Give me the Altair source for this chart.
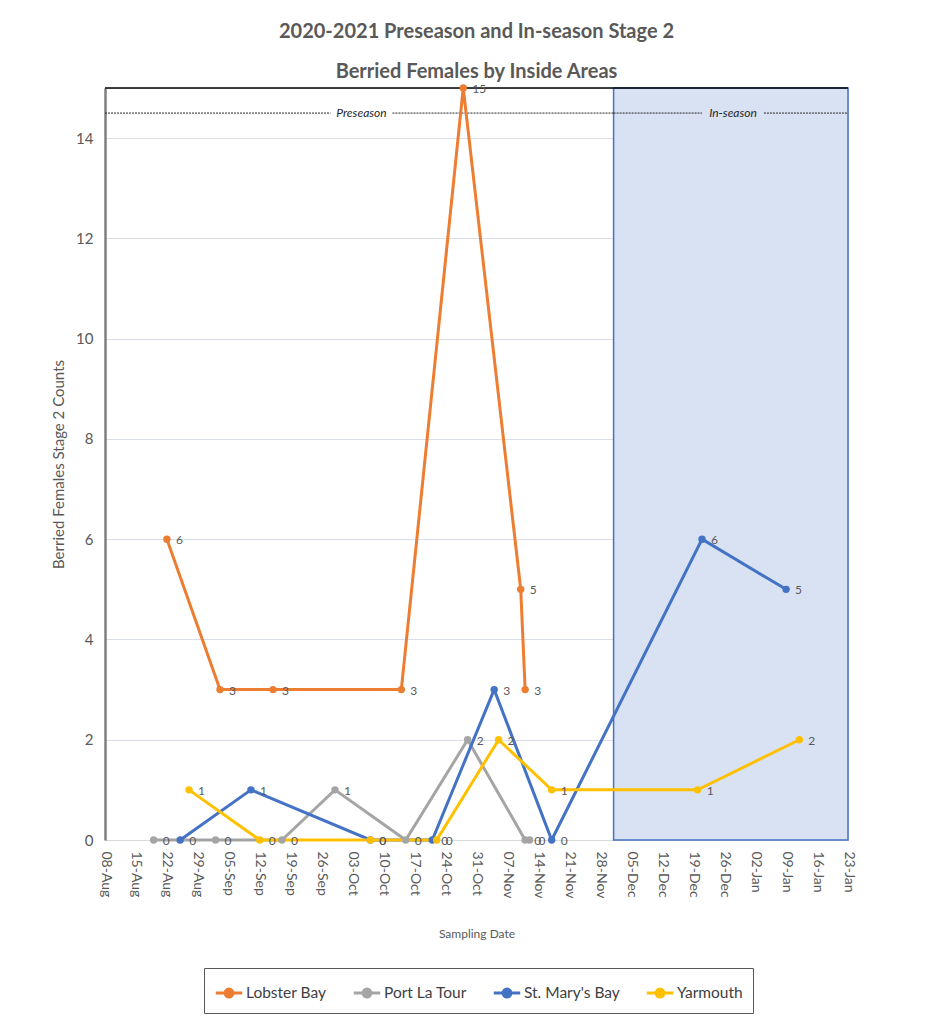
import altair as alt
import pandas as pd

# ---- data ----
lobster_dates = ["2020-08-22", "2020-09-03", "2020-09-15", "2020-10-14", "2020-10-28", "2020-11-10", "2020-11-11"]
lobster_vals = [6, 3, 3, 3, 15, 5, 3]

portla_dates = ["2020-08-19", "2020-09-02", "2020-09-17", "2020-09-29", "2020-10-15", "2020-10-29", "2020-11-11", "2020-11-12"]
portla_vals = [0, 0, 0, 1, 0, 2, 0, 0]

stmary_dates = ["2020-08-25", "2020-09-10", "2020-10-07", "2020-10-21", "2020-11-04", "2020-11-17", "2020-12-21", "2021-01-09"]
stmary_vals = [0, 1, 0, 0, 3, 0, 6, 5]

yarmouth_dates = ["2020-08-27", "2020-09-12", "2020-10-07", "2020-10-22", "2020-11-05", "2020-11-17", "2020-12-20", "2021-01-12"]
yarmouth_vals = [1, 0, 0, 0, 2, 1, 1, 2]

series_names = ["Lobster Bay", "Port La Tour", "St. Mary's Bay", "Yarmouth"]
series_colors = ["#ED7D31", "#A5A5A5", "#4472C4", "#FFC000"]

tick_dates = ["2020-08-08", "2020-08-15", "2020-08-22", "2020-08-29", "2020-09-05", "2020-09-12",
              "2020-09-19", "2020-09-26", "2020-10-03", "2020-10-10", "2020-10-17", "2020-10-24",
              "2020-10-31", "2020-11-07", "2020-11-14", "2020-11-21", "2020-11-28", "2020-12-05",
              "2020-12-12", "2020-12-19", "2020-12-26", "2021-01-02", "2021-01-09", "2021-01-16",
              "2021-01-23"]
y_ticks = [0, 2, 4, 6, 8, 10, 12, 14]

x_start, x_end = "2020-08-08", "2021-01-23"
inseason_start = "2020-12-01"
y_max = 15
season_line_y = 14.5
season_label_names = ["Preseason", "In-season"]
season_label_dates = ["2020-10-05", "2020-12-28"]
# dashed line segments, broken where the labels sit
seg_starts = ["2020-08-08", "2020-10-12", "2020-12-01", "2021-01-04"]
seg_ends = ["2020-09-28", "2020-12-01", "2020-12-21", "2021-01-23"]

rows = []
for name, ds, vs in zip(series_names,
                        [lobster_dates, portla_dates, stmary_dates, yarmouth_dates],
                        [lobster_vals, portla_vals, stmary_vals, yarmouth_vals]):
    for d, v in zip(ds, vs):
        rows.append({"date": d, "count": v, "area": name})
df = pd.DataFrame(rows)

FONT = "Lato"
TXT = "#595959"

xscale = alt.Scale(type="utc", domain=[alt.DateTime(year=2020, month=8, date=8, utc=True),
                                        alt.DateTime(year=2021, month=1, date=23, utc=True)])
yscale = alt.Scale(domain=[0, y_max], nice=False)

tick_values = [alt.DateTime(year=int(t[:4]), month=int(t[5:7]), date=int(t[8:]), utc=True) for t in tick_dates]

x_axis = alt.Axis(values=tick_values, format="%d-%b", labelAngle=90, labelAlign="left",
                  labelBaseline="middle", labelFontSize=14, labelColor=TXT, labelFont=FONT,
                  labelOverlap=False, labelFlush=False, labelSeparation=0,
                  title="Sampling Date", titleFontSize=12, titleFontWeight="normal", titleColor=TXT,
                  titleFont=FONT, titlePadding=31, grid=False, domainColor="#D9D9D9", ticks=False,
                  labelPadding=11)
y_axis = alt.Axis(values=y_ticks, labelFontSize=15, labelColor=TXT, labelFont=FONT,
                  title="Berried Females Stage 2 Counts", titleFontSize=15, titleFontWeight="normal",
                  titleColor=TXT, titleFont=FONT, titlePadding=9, grid=True, gridColor="#D9DEEA",
                  domainColor="#7F7F7F", domainWidth=2.5, ticks=False, labelPadding=12)

legend_symbol = "M-1,0H1M-0.3,0A0.3,0.3 0 1,1 0.3,0A0.3,0.3 0 1,1 -0.3,0Z"
color = alt.Color("area:N", scale=alt.Scale(domain=series_names, range=series_colors),
                  legend=alt.Legend(title=None, orient="none", direction="horizontal",
                                    legendX=99, legendY=880, strokeColor="#595959",
                                    padding=10, labelFontSize=15.5, labelFont=FONT, labelColor="#404040",
                                    columnPadding=20, symbolType=legend_symbol,
                                    symbolStrokeWidth=3, symbolSize=700, labelOffset=2))

bg_df = pd.DataFrame({"start": [inseason_start], "end": [x_end], "y0": [0], "y1": [y_max]})
shade = alt.Chart(bg_df).mark_rect(fill="#D9E2F3", stroke="#4472C4", strokeWidth=1.5).encode(
    x=alt.X("start:T", scale=xscale, axis=x_axis),
    x2="end:T",
    y=alt.Y("y0:Q", scale=yscale, axis=y_axis),
    y2="y1:Q",
)

top_df = pd.DataFrame({"y": [y_max]})
top_rule = alt.Chart(top_df).mark_rule(color="black", strokeWidth=1.5).encode(y=alt.Y("y:Q", scale=yscale))

seg_df = pd.DataFrame({"s": seg_starts, "e": seg_ends, "y": [season_line_y] * len(seg_starts)})
dashed = alt.Chart(seg_df).mark_rule(color="#262626", strokeDash=[2, 1], strokeWidth=1).encode(
    x=alt.X("s:T", scale=xscale, axis=x_axis), x2="e:T", y=alt.Y("y:Q", scale=yscale, axis=y_axis))

lab_df = pd.DataFrame({"d": season_label_dates, "t": season_label_names, "y": [season_line_y] * 2})
season_text = alt.Chart(lab_df).mark_text(fontSize=12, fontStyle="italic", font=FONT, color="#262626").encode(
    x=alt.X("d:T", scale=xscale, axis=x_axis), y=alt.Y("y:Q", scale=yscale, axis=y_axis), text="t:N")

base = alt.Chart(df).encode(
    x=alt.X("date:T", scale=xscale, axis=x_axis),
    y=alt.Y("count:Q", scale=yscale, axis=y_axis),
    color=color,
)
lines = base.mark_line(strokeWidth=3)
points = base.mark_point(filled=True, size=55, opacity=1)
labels = alt.Chart(df).mark_text(align="left", dx=9, dy=1, fontSize=12, font=FONT, color=TXT).encode(
    x=alt.X("date:T", scale=xscale, axis=x_axis), y=alt.Y("count:Q", scale=yscale, axis=y_axis),
    text="count:Q")

chart = alt.layer(shade, top_rule, dashed, season_text, lines, points, labels).properties(
    width=743, height=752,
    title=alt.TitleParams(["2020-2021 Preseason and In-season Stage 2", "Berried Females by Inside Areas"],
                          fontSize=20, fontWeight="bold", color=TXT, font=FONT, lineHeight=40,
                          anchor="middle", offset=0),
    padding={"left": 43, "top": 14, "right": 5, "bottom": 5},
).configure_view(stroke=None).configure(background="white").configure_axisX(labelOverlap=False)

chart.save("out.html", embed_options={"renderer": "svg", "actions": False})
